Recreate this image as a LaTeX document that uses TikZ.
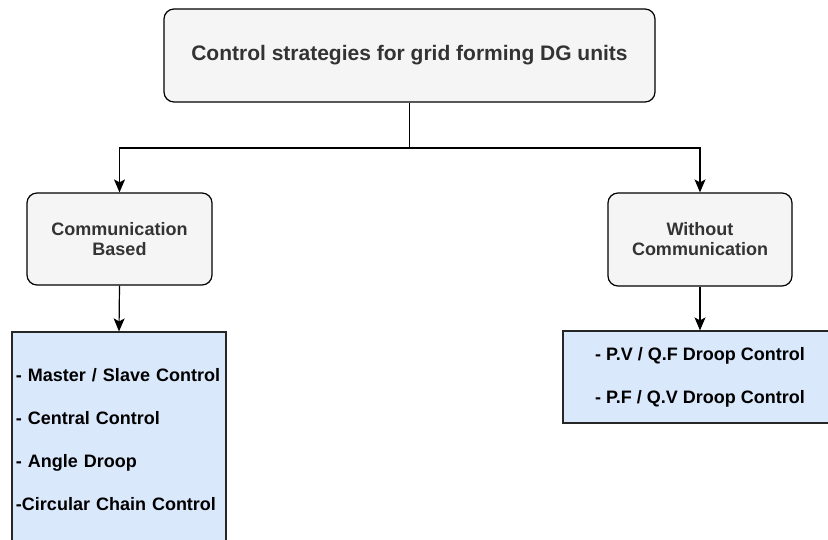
\documentclass[tikz,border=0pt]{standalone}
\usepackage{fontspec}
\setmainfont{Liberation Sans}
\usepackage{tikz}
\usetikzlibrary{arrows.meta, positioning}

\definecolor{boxgray}{HTML}{F5F5F5}
\definecolor{txtgray}{HTML}{333333}
\definecolor{boxblue}{HTML}{DAE8FC}

\begin{document}
\begin{tikzpicture}[
    x=1pt, y=-1pt,
    greybox/.style={rectangle, rounded corners=10pt, draw=black, line width=1.2pt,
      fill=boxgray, text=txtgray, align=center, font=\bfseries\fontsize{18}{20}\selectfont},
    listbox/.style={rectangle, draw=black!85, line width=1.2pt, fill=boxblue,
      text=black, inner sep=4pt, font=\bfseries\fontsize{18}{43}\selectfont},
    el/.style={-{Stealth[length=13pt, width=11pt, inset=3pt]}, line width=1.2pt},
    ln/.style={line width=1.2pt}
  ]
    \clip (0,0) rectangle (828,540);

    % nodes
    \node[greybox, minimum width=491pt, minimum height=93pt,
      font=\bfseries\fontsize{21}{24}\selectfont] (top) at (409.5,55.5)
      {Control strategies for grid forming DG units};
    \node[greybox, minimum width=185pt, minimum height=92pt] (comm) at (119.5,239)
      {Communication\\Based};
    \node[greybox, minimum width=184pt, minimum height=93pt] (nocomm) at (700,239.5)
      {Without\\Communication};
    \node[listbox, minimum width=214pt, minimum height=216pt, text width=206pt,
      align=left] (commlist) at (119,440)
      {- Master / Slave Control\\- Central Control\\- Angle Droop\\-Circular Chain Control};
    \node[listbox, minimum width=274pt, minimum height=92pt, align=center]
      (nocommlist) at (700,377)
      {- P.V / Q.F Droop Control\\- P.F / Q.V Droop Control};

    % edges
    \coordinate (split) at (409.5,148);
    \draw[ln] (top.south) -- (split);
    \draw[el] (split) -| (comm.north);
    \draw[el] (split) -| (nocomm.north);
    \draw[el] (comm.south) -- (commlist.north);
    \draw[el] (nocomm.south) -- (nocommlist.north);
\end{tikzpicture}
\end{document}
